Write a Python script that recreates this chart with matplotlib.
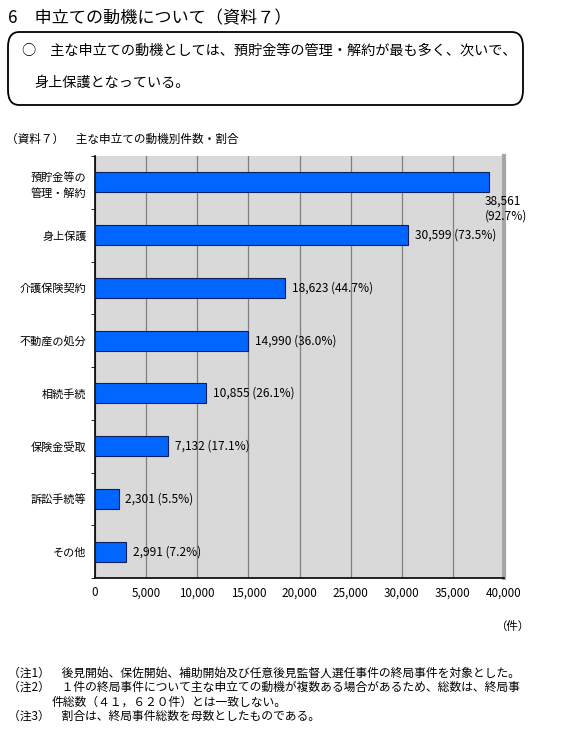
import matplotlib
matplotlib.use('Agg')
import matplotlib.pyplot as plt
from matplotlib.patches import FancyBboxPatch
import numpy as np

plt.rcParams['font.family'] = ['Noto Sans CJK JP', 'DejaVu Sans']

# data
categories = ['預貯金等の\n管理・解約', '身上保護', '介護保険契約', '不動産の処分',
              '相続手続', '保険金受取', '訴訟手続等', 'その他']
counts = [38561, 30599, 18623, 14990, 10855, 7132, 2301, 2991]
shares = [92.7, 73.5, 44.7, 36.0, 26.1, 17.1, 5.5, 7.2]
x_ticks = [0, 5000, 10000, 15000, 20000, 25000, 30000, 35000, 40000]

fig = plt.figure(figsize=(5.65, 7.44), dpi=100)
W, H = 565, 744


def fx(px):
    return px / W


def fy(py):
    return 1 - py / H


# header texts
fig.text(fx(8), fy(18), '6　申立ての動機について（資料７）', fontsize=12.3,
         va='center', ha='left')
box = FancyBboxPatch((fx(8), fy(105)), fx(515), (105 - 32) / H,
                     boxstyle='round,pad=0,rounding_size=0.02',
                     transform=fig.transFigure, fill=False,
                     edgecolor='black', linewidth=1.3)
fig.patches.append(box)
fig.text(fx(22), fy(51), '○　主な申立ての動機としては、預貯金等の管理・解約が最も多く、次いで、',
         fontsize=10.2, va='center', ha='left')
fig.text(fx(34), fy(83), '身上保護となっている。', fontsize=10.2, va='center', ha='left')
fig.text(fx(6), fy(139), '（資料７）　主な申立ての動機別件数・割合', fontsize=8.4,
         va='center', ha='left')

# chart
ax = fig.add_axes([fx(95), fy(578), (504 - 95) / W, (578 - 156) / H])
ax.set_facecolor('#d9d9d9')
y = np.arange(len(categories))
ax.barh(y, counts, height=0.38, color='#0066ff', edgecolor='#0a1f5c',
        linewidth=0.8, zorder=3)
ax.set_ylim(len(categories) - 0.5, -0.5)
ax.set_xlim(0, 40000)
ax.set_xticks(x_ticks)
ax.set_xticklabels([f'{v:,}' for v in x_ticks], fontsize=8.4)
ax.tick_params(axis='x', length=0, pad=6)
ax.set_yticks(y)
ax.set_yticklabels(categories, fontsize=8.0, linespacing=1.5)
ax.tick_params(axis='y', length=0, pad=6)
ax.set_yticks(np.arange(len(categories) + 1) - 0.5, minor=True)
ax.tick_params(axis='y', which='minor', length=3, direction='out')
ax.grid(axis='x', color='#808080', linewidth=0.9, zorder=0)
ax.spines['top'].set_visible(False)
ax.spines['right'].set_color('#a6a6a6')
ax.spines['right'].set_linewidth(3)
ax.spines['left'].set_linewidth(1.2)
ax.spines['bottom'].set_linewidth(1.2)

for i, (c, s) in enumerate(zip(counts, shares)):
    if i == 0:
        ax.annotate(f'{c:,}\n({s:.1f}%)', (c, i + 0.2), xytext=(-3, -1),
                    textcoords='offset points', ha='left', va='top',
                    fontsize=8.6, linespacing=1.2)
    else:
        ax.annotate(f'{c:,} ({s:.1f}%)', (c, i), xytext=(5, 0),
                    textcoords='offset points', ha='left', va='center',
                    fontsize=8.6)

fig.text(fx(495), fy(626), '（件）', fontsize=8.2, va='center', ha='left')

# notes
notes = [
    (8, 673, '（注1）　後見開始、保佐開始、補助開始及び任意後見監督人選任事件の終局事件を対象とした。'),
    (8, 687, '（注2）　１件の終局事件について主な申立ての動機が複数ある場合があるため、総数は、終局事'),
    (52, 702, '件総数（４１，６２０件）とは一致しない。'),
    (8, 716, '（注3）　割合は、終局事件総数を母数としたものである。'),
]
for nx, ny, t in notes:
    fig.text(fx(nx), fy(ny), t, fontsize=8.5, va='center', ha='left')

fig.savefig('out.png', dpi=100)
